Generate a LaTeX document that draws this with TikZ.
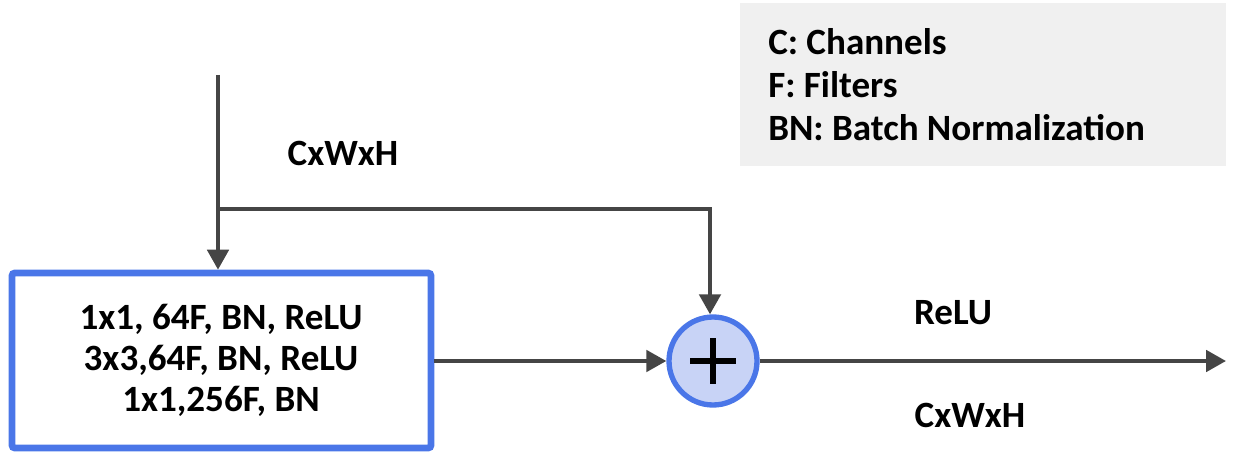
\documentclass[tikz,border=0pt]{standalone}
\usepackage{fontspec}
\setmainfont{Carlito}
\usetikzlibrary{arrows.meta,calc}
\definecolor{lineg}{HTML}{454545}
\definecolor{boxblue}{HTML}{4A76E8}
\definecolor{circfill}{HTML}{C8D3F6}
\definecolor{legbg}{HTML}{F0F0F0}
\tikzset{
  conn/.style={draw=lineg, line width=3pt},
  arr/.style={conn, -{Triangle[length=15pt,width=16pt]}},
  lbl/.style={font=\fontsize{27.8}{30.8}\selectfont\bfseries, inner sep=0pt},
}
\begin{document}
\begin{tikzpicture}[x=0.75pt,y=-0.75pt]
\useasboundingbox (0,0) rectangle (1235,453);
% legend
\node[fill=legbg, minimum width=486*0.75pt, minimum height=163*0.75pt, anchor=north west, inner sep=0pt] (legend) at (740,3) {};
\node[lbl, anchor=west] (l1) at (768,42) {C: Channels};
\node[lbl, anchor=west] (l2) at (768,85) {F: Filters};
\node[lbl, anchor=west] (l3) at (768,128) {BN: Batch Normalization};
% block
\node[draw=boxblue, line width=5pt, minimum width=419*0.75pt, minimum height=175*0.75pt, inner sep=0pt, rounded corners=2pt] (block) at (221.5,360.5) {};
\node[lbl, align=center] (btext) at (221,360) {1x1, 64F, BN, ReLU\\3x3,64F, BN, ReLU\\1x1,256F, BN};
% adder
\node[circle, draw=boxblue, fill=circfill, line width=4pt, minimum size=88*0.75pt, inner sep=0pt] (add) at (713,361) {};
\draw[line width=5pt, black] ($(add)+(-23,0)$) -- ($(add)+(23,0)$);
\draw[line width=5pt, black] ($(add)+(0,-23)$) -- ($(add)+(0,23)$);
% coordinates
\coordinate (in) at (218,75);
\coordinate (split) at (218,209);
\coordinate (turn) at (710,209);
\coordinate (out) at (1226,361);
% connectors
\draw[conn] (in) -- (split);
\draw[arr] (split) -- (block.north -| split);
\draw[arr] (split) -- (turn) -- (add.north -| turn);
\draw[arr] (block.east |- add) -- (add.west);
\draw[arr] (add.east) -- (out);
% labels
\node[lbl] (c1) at (343,153) {CxWxH};
\node[lbl] (relu) at (953,313) {ReLU};
\node[lbl] (c2) at (970,415) {CxWxH};
\end{tikzpicture}
\end{document}
